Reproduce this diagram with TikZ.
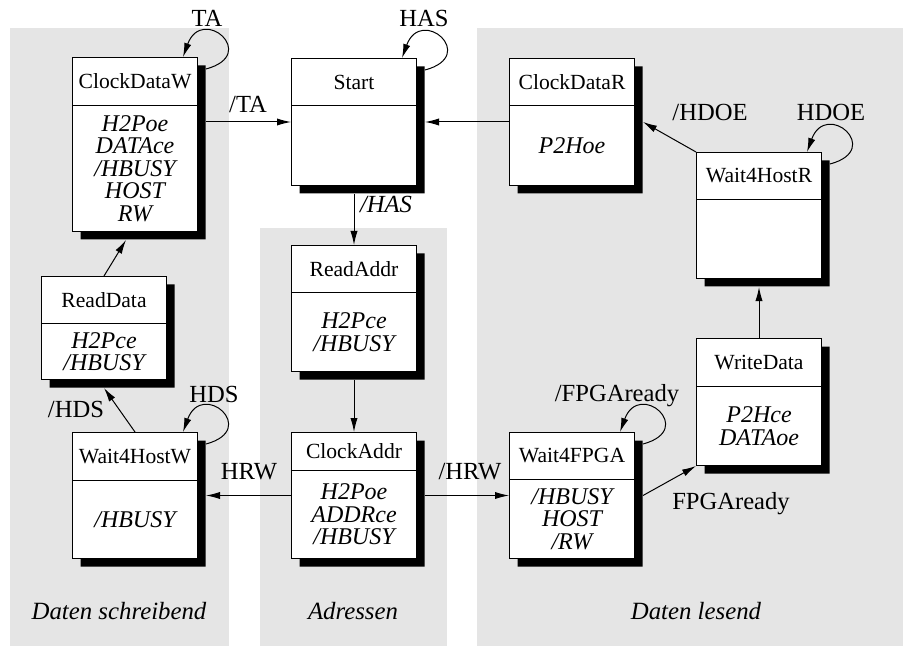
\documentclass[tikz,border=0pt]{standalone}
\usepackage{fontspec}
\setmainfont{Liberation Serif}
\usetikzlibrary{arrows.meta, calc, shapes.multipart, shadows}

% fixed-height parts of a state box
\newcommand{\fsmname}[2]{\parbox[c][#1][c]{62.5pt}{\centering\fontsize{10.8}{12}\selectfont #2}}
\newcommand{\fsmouts}[2]{\parbox[c][#1][c]{62.5pt}{\centering\fontsize{12}{11.2}\selectfont\itshape #2}}

\tikzset{
  >={Latex[length=7pt,width=3.6pt]},
  panel/.style={fill=gray!20, draw=none},
  fsm/.style={
    rectangle split, rectangle split parts=2, draw, fill=white,
    line width=0.5pt, inner sep=0pt, anchor=north west,
    drop shadow={shadow xshift=4pt, shadow yshift=-4pt, fill=black, opacity=1}
  },
  arr/.style={->, line width=0.5pt},
  selfarc/.style={->, line width=0.5pt, out=15, in=70, distance=28pt},
  lbl/.style={anchor=base, inner sep=0pt, font=\fontsize{12.3}{14}\selectfont},
  zone/.style={anchor=base, inner sep=0pt, font=\fontsize{12.4}{14}\selectfont\itshape}
}

\begin{document}
\begin{tikzpicture}[x=0.5pt, y=0.5pt]
  \useasboundingbox (0,0) rectangle (903,-646);
  % the three areas
  \fill[panel] (10,-28) rectangle (229,-646);
  \fill[panel] (260,-228) rectangle (447,-646);
  \fill[panel] (477,-28) rectangle (903,-646);
  \node[zone] (z-write) at (119,-619) {Daten schreibend};
  \node[zone] (z-addr) at (353,-619) {Adressen};
  \node[zone] (z-read) at (696,-619) {Daten lesend};

  % states
  \node[fsm] (cdw) at (72,-57) {\fsmname{23.5pt}{ClockDataW}\nodepart{two}%
    \fsmouts{62.5pt}{H2Poe\\DATAce\\/HBUSY\\HOST\\RW}};
  \node[fsm] (start) at (291,-58) {\fsmname{23pt}{Start}\nodepart{two}\fsmouts{39.5pt}{}};
  \node[fsm] (cdr) at (509,-58) {\fsmname{23pt}{ClockDataR}\nodepart{two}\fsmouts{39.5pt}{P2Hoe}};
  \node[fsm] (w4hr) at (696,-152) {\fsmname{23pt}{Wait4HostR}\nodepart{two}\fsmouts{39pt}{}};
  \node[fsm] (wd) at (696,-338) {\fsmname{23.5pt}{WriteData}\nodepart{two}%
    \fsmouts{39pt}{P2Hce\\DATAoe}};
  \node[fsm] (w4f) at (509,-432) {\fsmname{23pt}{Wait4FPGA}\nodepart{two}%
    \fsmouts{39pt}{/HBUSY\\HOST\\/RW}};
  \node[fsm] (ra) at (291,-245) {\fsmname{23pt}{ReadAddr}\nodepart{two}%
    \fsmouts{39pt}{H2Pce\\/HBUSY}};
  \node[fsm] (ca) at (291,-432) {\fsmname{18.5pt}{ClockAddr}\nodepart{two}%
    \fsmouts{43.5pt}{H2Poe\\ADDRce\\/HBUSY}};
  \node[fsm] (rd) at (41,-276) {\fsmname{23pt}{ReadData}\nodepart{two}%
    \fsmouts{27.5pt}{H2Pce\\/HBUSY}};
  \node[fsm] (w4hw) at (72,-432) {\fsmname{23.5pt}{Wait4HostW}\nodepart{two}\fsmouts{38.5pt}{/HBUSY}};

  % transitions
  \draw[arr] ($(cdw.east |- start.west)+(4pt,0)$) -- (start.west);
  \draw[arr] (cdr.west) -- ($(start.east)+(4pt,0)$);
  \draw[arr] ($(start.south)+(0,-4pt)$) -- (ra.north);
  \draw[arr] ($(ra.south)+(0,-4pt)$) -- (ca.north);
  \draw[arr] (ca.west) -- ($(w4hw.east)+(4pt,0)$);
  \draw[arr] ($(ca.east)+(4pt,0)$) -- (w4f.west);
  \draw[arr] ($(w4f.east)+(4pt,0)$) -- (wd.south west);
  \draw[arr] (wd.north) -- ($(w4hr.south)+(0,-4pt)$);
  \draw[arr] (w4hr.north west) -- ($(cdr.east)+(4pt,0)$);
  \draw[arr] (w4hw.north) -- ($(rd.south)+(0,-4pt)$);
  \draw[arr] (rd.north) -- ($(cdw.south)+(-4.5pt,-4pt)$);

  % self transitions
  \foreach \s in {cdw, start, w4hr, w4f, w4hw}
    \draw[selfarc] ($(\s.north east)+(4pt,-6pt)$) to ($(\s.north east)+(-7.5pt,0)$);

  % conditions
  \node[lbl] (l-ta) at (207,-27) {TA};
  \node[lbl] (l-nta) at (248,-113) {/TA};
  \node[lbl] (l-has) at (424,-27) {HAS};
  \node[lbl,font=\fontsize{12.3}{14}\selectfont\itshape] (l-nhas) at (386,-213) {/HAS};
  \node[lbl] (l-nhdoe) at (710,-121) {/HDOE};
  \node[lbl] (l-hdoe) at (831,-121) {HDOE};
  \node[lbl] (l-nfpga) at (617,-401) {/FPGAready};
  \node[lbl] (l-fpga) at (731,-509) {FPGAready};
  \node[lbl] (l-hds) at (214,-402) {HDS};
  \node[lbl] (l-nhds) at (76,-417) {/HDS};
  \node[lbl] (l-hrw) at (249,-479) {HRW};
  \node[lbl] (l-nhrw) at (470,-479) {/HRW};
\end{tikzpicture}
\end{document}
